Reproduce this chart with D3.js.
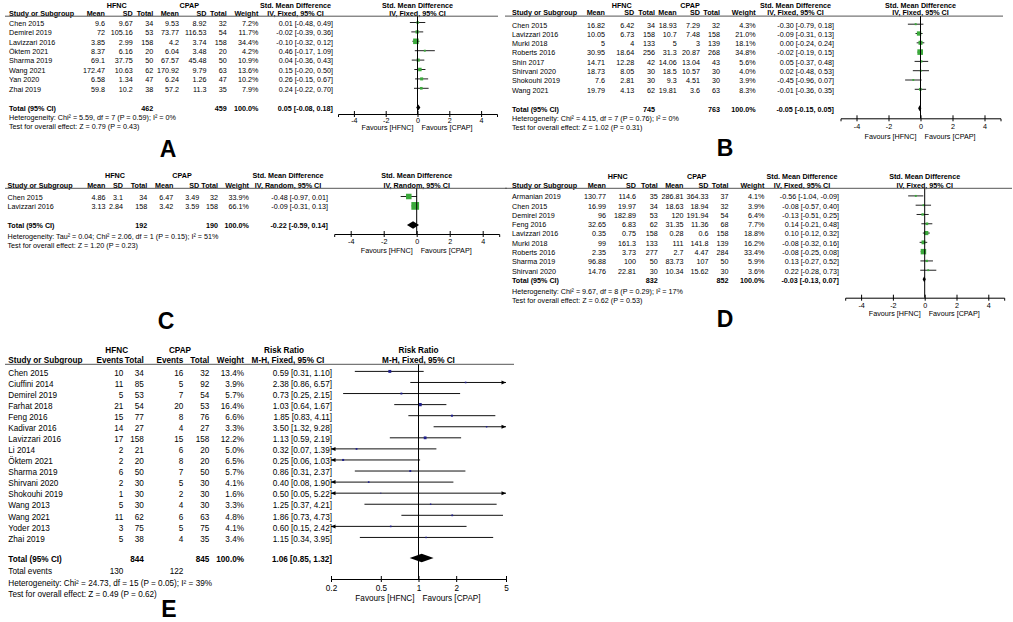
<!DOCTYPE html>
<html><head><meta charset="utf-8">
<script src="https://cdn.jsdelivr.net/npm/d3@7"></script>
<style>html,body{margin:0;padding:0;background:#fff;} svg{display:block;font-family:"Liberation Sans",Arial,sans-serif;}</style>
</head><body><svg id="c" width="1013" height="622"></svg>
<script>
// ---------- shared labels ----------
const smdTicks = [-4, -2, 0, 2, 4];
const rrTicks = [0.2, 0.5, 1, 2, 5];
const smdCols = ["Mean", "SD", "Total", "Mean", "SD", "Total", "Weight"];
const rrCols = ["Events", "Total", "Events", "Total", "Weight"];
const groupNames = ["HFNC", "CPAP"];

// ---------- Panel A ----------
const studiesA = ["Chen 2015", "Demirel 2019", "Lavizzari 2016", "Öktem 2021", "Sharma 2019", "Wang 2021", "Yan 2020", "Zhai 2019"];
const tableA = [[9.6, 9.67, 34, 9.53, 8.92, 32], [72, 105.16, 53, 73.77, 116.53, 54], [3.85, 2.99, 158, 4.2, 3.74, 158], [8.37, 6.16, 20, 6.04, 3.48, 20], [69.1, 37.75, 50, 67.57, 45.48, 50], [172.47, 10.63, 62, 170.92, 9.79, 63], [6.58, 1.34, 47, 6.24, 1.26, 47], [59.8, 10.2, 38, 57.2, 11.3, 35]];
const weightA = [7.2, 11.7, 34.4, 4.2, 10.9, 13.6, 10.2, 7.9];
const estA = [0.01, -0.02, -0.10, 0.46, 0.04, 0.15, 0.26, 0.24];
const lowA = [-0.48, -0.39, -0.32, -0.17, -0.36, -0.20, -0.15, -0.22];
const highA = [0.49, 0.36, 0.12, 1.09, 0.43, 0.50, 0.67, 0.70];
const totalA = [462, 459, 0.05, -0.08, 0.18];
const hetA = "Heterogeneity: Chi² = 5.59, df = 7 (P = 0.59); I² = 0%";
const testA = "Test for overall effect: Z = 0.79 (P = 0.43)";

// ---------- Panel B ----------
const studiesB = ["Chen 2015", "Lavizzari 2016", "Murki 2018", "Roberts 2016", "Shin 2017", "Shirvani 2020", "Shokouhi 2019", "Wang 2021"];
const tableB = [[16.82, 6.42, 34, 18.93, 7.29, 32], [10.05, 6.73, 158, 10.7, 7.48, 158], [5, 4, 133, 5, 3, 139], [30.95, 18.64, 256, 31.3, 20.87, 268], [14.71, 12.28, 42, 14.06, 13.04, 43], [18.73, 8.05, 30, 18.5, 10.57, 30], [7.6, 2.81, 30, 9.3, 4.51, 30], [19.79, 4.13, 62, 19.81, 3.6, 63]];
const weightB = [4.3, 21.0, 18.1, 34.8, 5.6, 4.0, 3.9, 8.3];
const estB = [-0.30, -0.09, 0.00, -0.02, 0.05, 0.02, -0.45, -0.01];
const lowB = [-0.79, -0.31, -0.24, -0.19, -0.37, -0.48, -0.96, -0.36];
const highB = [0.18, 0.13, 0.24, 0.15, 0.48, 0.53, 0.07, 0.35];
const totalB = [745, 763, -0.05, -0.15, 0.05];
const hetB = "Heterogeneity: Chi² = 4.15, df = 7 (P = 0.76); I² = 0%";
const testB = "Test for overall effect: Z = 1.02 (P = 0.31)";

// ---------- Panel C ----------
const studiesC = ["Chen 2015", "Lavizzari 2016"];
const tableC = [[4.86, 3.1, 34, 6.47, 3.49, 32], [3.13, 2.84, 158, 3.42, 3.59, 158]];
const weightC = [33.9, 66.1];
const estC = [-0.48, -0.09];
const lowC = [-0.97, -0.31];
const highC = [0.01, 0.13];
const totalC = [192, 190, -0.22, -0.59, 0.14];
const hetC = "Heterogeneity: Tau² = 0.04; Chi² = 2.06, df = 1 (P = 0.15); I² = 51%";
const testC = "Test for overall effect: Z = 1.20 (P = 0.23)";

// ---------- Panel D ----------
const studiesD = ["Armanian 2019", "Chen 2015", "Demirel 2019", "Feng 2016", "Lavizzari 2016", "Murki 2018", "Roberts 2016", "Sharma 2019", "Shirvani 2020"];
const tableD = [[130.77, 114.6, 35, 286.81, 364.33, 37], [16.99, 19.97, 34, 18.63, 18.94, 32], [96, 182.89, 53, 120, 191.94, 54], [32.65, 6.83, 62, 31.35, 11.36, 68], [0.35, 0.75, 158, 0.28, 0.6, 158], [99, 161.3, 133, 111, 141.8, 139], [2.35, 3.73, 277, 2.7, 4.47, 284], [96.88, 100, 50, 83.73, 107, 50], [14.76, 22.81, 30, 10.34, 15.62, 30]];
const weightD = [4.1, 3.9, 6.4, 7.7, 18.8, 16.2, 33.4, 5.9, 3.6];
const estD = [-0.56, -0.08, -0.13, 0.14, 0.10, -0.08, -0.08, 0.13, 0.22];
const lowD = [-1.04, -0.57, -0.51, -0.21, -0.12, -0.32, -0.25, -0.27, -0.28];
const highD = [-0.09, 0.40, 0.25, 0.48, 0.32, 0.16, 0.08, 0.52, 0.73];
const totalD = [832, 852, -0.03, -0.13, 0.07];
const hetD = "Heterogeneity: Chi² = 9.67, df = 8 (P = 0.29); I² = 17%";
const testD = "Test for overall effect: Z = 0.62 (P = 0.53)";

// ---------- Panel E ----------
const studiesE = ["Chen 2015", "Ciuffini 2014", "Demirel 2019", "Farhat 2018", "Feng 2016", "Kadivar 2016", "Lavizzari 2016", "Li 2014", "Öktem 2021", "Sharma 2019", "Shirvani 2020", "Shokouhi 2019", "Wang 2013", "Wang 2021", "Yoder 2013", "Zhai 2019"];
const tableE = [[10, 34, 16, 32], [11, 85, 5, 92], [5, 53, 7, 54], [21, 54, 20, 53], [15, 77, 8, 76], [14, 27, 4, 27], [17, 158, 15, 158], [2, 21, 6, 20], [2, 20, 8, 20], [6, 50, 7, 50], [2, 30, 5, 30], [1, 30, 2, 30], [5, 30, 4, 30], [11, 62, 6, 63], [3, 75, 5, 75], [5, 38, 4, 35]];
const weightE = [13.4, 3.9, 5.7, 16.4, 6.6, 3.3, 12.2, 5.0, 6.5, 5.7, 4.1, 1.6, 3.3, 4.8, 4.1, 3.4];
const estE = [0.59, 2.38, 0.73, 1.03, 1.85, 3.50, 1.13, 0.32, 0.25, 0.86, 0.40, 0.50, 1.25, 1.86, 0.60, 1.15];
const lowE = [0.31, 0.86, 0.25, 0.64, 0.83, 1.32, 0.59, 0.07, 0.06, 0.31, 0.08, 0.05, 0.37, 0.73, 0.15, 0.34];
const highE = [1.10, 6.57, 2.15, 1.67, 4.11, 9.28, 2.19, 1.39, 1.03, 2.37, 1.90, 5.22, 4.21, 4.73, 2.42, 3.95];
const totalE = [844, 845, 1.06, 0.85, 1.32];
const eventsE = [130, 122];
const hetE = "Heterogeneity: Chi² = 24.73, df = 15 (P = 0.05); I² = 39%";
const testE = "Test for overall effect: Z = 0.49 (P = 0.62)";

// ---------- drawing ----------
const svg = d3.select("#c");
const GREEN = "#3caa3c", NAVY = "#20208c", LINE = "#222";

function T(g, x, y, s, anchor, bold, fs) {
  const t = g.append("text").attr("x", x).attr("y", y).text(s)
    .attr("text-anchor", anchor || "start").attr("fill", "#000");
  if (bold) t.attr("font-weight", "bold");
  if (fs) t.attr("font-size", fs);
  return t;
}
const ci = (e, l, h) => `${e.toFixed(2)} [${l.toFixed(2)}, ${h.toFixed(2)}]`;

function drawAxis(g, x, L, ticks) {
  const ax = g.append("g").attr("transform", `translate(0,${L.axisY})`)
    .call(d3.axisBottom(x).tickValues(ticks).tickSizeOuter(0).tickSize(3).tickFormat(d => String(d)));
  ax.attr("font-family", null).attr("font-size", L.fs);
  ax.select(".domain").attr("stroke", "#000").attr("stroke-width", 1);
  ax.selectAll(".tick line").attr("y1", -3).attr("y2", 3).attr("stroke", "#000");
  ax.selectAll(".tick text").attr("y", L.tickY - L.axisY).attr("dy", 0).attr("fill", "#000");
  const z = x(L.ref);
  g.append("line").attr("x1", z).attr("x2", z).attr("y1", L.ruleY).attr("y2", L.axisY)
    .attr("stroke", "#000").attr("stroke-width", 1);
  T(g, z - 4, L.favY, "Favours [HFNC]", "end");
  T(g, z + 4, L.favY, "Favours [CPAP]", "start");
}

function drawSMD(L, studies, table, weight, est, low, high, total, het, test) {
  const g = svg.append("g").attr("font-size", L.fs);
  const off = L.fs * 0.36;
  T(g, L.hfncC, L.hy1, groupNames[0], "middle", true);
  T(g, L.cpapC, L.hy1, groupNames[1], "middle", true);
  T(g, L.studyX, L.hy2, "Study or Subgroup", "start", true);
  smdCols.forEach((c, i) => T(g, L.cols[i], L.hy2, c, "end", true));
  T(g, L.ciC, L.hy1, "Std. Mean Difference", "middle", true);
  T(g, L.ciC, L.hy2, L.method, "middle", true);
  const x = d3.scaleLinear().domain([-5, 5]).range(L.px);
  T(g, x(0), L.hy1, "Std. Mean Difference", "middle", true);
  T(g, x(0), L.hy2, L.method, "middle", true);
  g.append("line").attr("x1", L.ruleX[0]).attr("x2", L.ruleX[1]).attr("y1", L.ruleY).attr("y2", L.ruleY)
    .attr("stroke", "#555").attr("stroke-width", 1);
  studies.forEach((s, i) => {
    const cy = L.row0 + i * L.rowH;
    T(g, L.studyX, cy + off, s);
    table[i].forEach((v, j) => T(g, L.cols[j], cy + off, String(v), "end"));
    T(g, L.cols[6], cy + off, weight[i].toFixed(1) + "%", "end");
    T(g, L.ciR, cy + off, ci(est[i], low[i], high[i]), "end");
    const my = cy - 0.8;
    g.append("line").attr("x1", x(low[i])).attr("x2", x(high[i])).attr("y1", my).attr("y2", my)
      .attr("stroke", LINE).attr("stroke-width", 1);
    const sz = 0.95 * Math.sqrt(weight[i]);
    g.append("rect").attr("x", x(est[i]) - sz / 2).attr("y", my - sz / 2).attr("width", sz).attr("height", sz)
      .attr("fill", GREEN);
  });
  const ty = L.totalY;
  T(g, L.studyX, ty + off, "Total (95% CI)", "start", true);
  T(g, L.cols[2], ty + off, String(total[0]), "end", true);
  T(g, L.cols[5], ty + off, String(total[1]), "end", true);
  T(g, L.cols[6], ty + off, "100.0%", "end", true);
  T(g, L.ciR, ty + off, ci(total[2], total[3], total[4]), "end", true);
  T(g, L.studyX, L.hetY + off, het);
  T(g, L.studyX, L.testY + off, test);
  const dy = ty - 0.8, h = L.dh / 2;
  g.append("path").attr("d", `M${x(total[3])},${dy}L${x(total[2])},${dy - h}L${x(total[4])},${dy}L${x(total[2])},${dy + h}Z`)
    .attr("fill", "#000");
  drawAxis(g, x, L, smdTicks);
  T(g, L.lx, L.ly, L.letter, "middle", true, 23);
}

const LA = {fs: 7.2, hy1: 7.9, hy2: 15.5, ruleY: 16.2, ruleX: [5, 498], studyX: 9, hfncC: 116.7, cpapC: 189.3,
  cols: [105, 132.7, 153.3, 179, 206.5, 226.7, 258.3], ciC: 295.5, ciR: 333, method: "IV, Fixed, 95% CI",
  row0: 23.3, rowH: 9.4, totalY: 108.3, hetY: 117.7, testY: 126.7, px: [338, 497], axisY: 114, tickY: 123, favY: 130.3,
  dh: 6, ref: 0, letter: "A", lx: 168, ly: 157};
const LB = {fs: 7.2, hy1: 7.9, hy2: 15.4, ruleY: 16.1, ruleX: [505, 1003], studyX: 512, hfncC: 621.7, cpapC: 690,
  cols: [605, 634.3, 655, 676.7, 700, 720, 755.7], ciC: 795.5, ciR: 834, method: "IV, Fixed, 95% CI",
  row0: 25, rowH: 9.3, totalY: 109, hetY: 118, testY: 127, px: [840.5, 1000.5], axisY: 118.3, tickY: 129.2, favY: 138.6,
  dh: 6, ref: 0, letter: "B", lx: 725, ly: 156};
const LC = {fs: 7.2, hy1: 178.3, hy2: 187.6, ruleY: 188.3, ruleX: [5, 507], studyX: 7.5, hfncC: 115, cpapC: 182,
  cols: [105.5, 123, 147.3, 173.3, 199.3, 218, 249], ciC: 288, ciR: 328, method: "IV, Random, 95% CI",
  row0: 197.3, rowH: 9.4, totalY: 225.7, hetY: 236, testY: 245, px: [334.2, 499.2], axisY: 234, tickY: 243.6, favY: 253,
  dh: 7.5, ref: 0, letter: "C", lx: 166, ly: 329};
const LD = {fs: 7.2, hy1: 179.3, hy2: 187.6, ruleY: 188.3, ruleX: [505, 1012], studyX: 512, hfncC: 617.7, cpapC: 696.7,
  cols: [606, 636, 657.7, 683.5, 708.5, 728.5, 764.3], ciC: 802, ciR: 839, method: "IV, Fixed, 95% CI",
  row0: 196.7, rowH: 9.29, totalY: 280, hetY: 291, testY: 300.3, px: [845.2, 1004.2], axisY: 297.7, tickY: 307.6, favY: 315.5,
  dh: 6, ref: 0, letter: "D", lx: 725, ly: 327};

drawSMD(LA, studiesA, tableA, weightA, estA, lowA, highA, totalA, hetA, testA);
drawSMD(LB, studiesB, tableB, weightB, estB, lowB, highB, totalB, hetB, testB);
drawSMD(LC, studiesC, tableC, weightC, estC, lowC, highC, totalC, hetC, testC);
drawSMD(LD, studiesD, tableD, weightD, estD, lowD, highD, totalD, hetD, testD);

// ---------- Panel E (risk ratio) ----------
(function () {
  const L = {fs: 8.2, hy1: 353, hy2: 363.4, ruleY: 364.3, ruleX: [5, 514], studyX: 8.3, hfncC: 116.7, cpapC: 180,
    cols: [123.3, 143.8, 183.3, 209.3, 244], ciC: 288, ciR: 332,
    row0: 372.7, rowH: 11.07, totalY: 559.3, eventsY: 570.7, hetY: 582.7, testY: 594,
    px: [331, 506], axisY: 579, tickY: 591.4, favY: 600.8, ref: 1};
  const g = svg.append("g").attr("font-size", L.fs);
  const off = L.fs * 0.36;
  T(g, L.hfncC, L.hy1, groupNames[0], "middle", true);
  T(g, L.cpapC, L.hy1, groupNames[1], "middle", true);
  T(g, L.studyX, L.hy2, "Study or Subgroup", "start", true);
  rrCols.forEach((c, i) => T(g, L.cols[i], L.hy2, c, "end", true));
  T(g, 284, L.hy1, "Risk Ratio", "middle", true);
  T(g, L.ciC, L.hy2, "M-H, Fixed, 95% CI", "middle", true);
  const x = d3.scaleLog().domain([0.2, 5]).range(L.px);
  T(g, x(1), L.hy1, "Risk Ratio", "middle", true);
  T(g, x(1), L.hy2, "M-H, Fixed, 95% CI", "middle", true);
  g.append("line").attr("x1", L.ruleX[0]).attr("x2", L.ruleX[1]).attr("y1", L.ruleY).attr("y2", L.ruleY)
    .attr("stroke", "#555").attr("stroke-width", 1);
  const [dmin, dmax] = x.domain();
  studiesE.forEach((s, i) => {
    const cy = L.row0 + i * L.rowH;
    T(g, L.studyX, cy + off, s);
    tableE[i].forEach((v, j) => T(g, L.cols[j], cy + off, String(v), "end"));
    T(g, L.cols[4], cy + off, weightE[i].toFixed(1) + "%", "end");
    T(g, L.ciR, cy + off, ci(estE[i], lowE[i], highE[i]), "end");
    const my = cy - 1.3;
    const lo = Math.max(lowE[i], dmin), hi = Math.min(highE[i], dmax);
    g.append("line").attr("x1", x(lo)).attr("x2", x(hi)).attr("y1", my).attr("y2", my)
      .attr("stroke", "#111").attr("stroke-width", 1);
    if (lowE[i] < dmin) {
      const xe = x(dmin);
      g.append("path").attr("d", `M${xe},${my}L${xe + 4.5},${my - 2}L${xe + 4.5},${my + 2}Z`).attr("fill", "#000");
    }
    if (highE[i] > dmax) {
      const xe = x(dmax);
      g.append("path").attr("d", `M${xe},${my}L${xe - 4.5},${my - 2}L${xe - 4.5},${my + 2}Z`).attr("fill", "#000");
    }
    const sz = 0.8 * Math.sqrt(weightE[i]);
    g.append("rect").attr("x", x(estE[i]) - sz / 2).attr("y", my - sz / 2).attr("width", sz).attr("height", sz)
      .attr("fill", NAVY);
  });
  T(g, L.studyX, L.totalY + off, "Total (95% CI)", "start", true);
  T(g, L.cols[1], L.totalY + off, String(totalE[0]), "end", true);
  T(g, L.cols[3], L.totalY + off, String(totalE[1]), "end", true);
  T(g, L.cols[4], L.totalY + off, "100.0%", "end", true);
  T(g, L.ciR, L.totalY + off, ci(totalE[2], totalE[3], totalE[4]), "end", true);
  T(g, L.studyX, L.eventsY + off, "Total events");
  T(g, L.cols[0], L.eventsY + off, String(eventsE[0]), "end");
  T(g, L.cols[2], L.eventsY + off, String(eventsE[1]), "end");
  T(g, L.studyX, L.hetY + off, hetE);
  T(g, L.studyX, L.testY + off, testE);
  const dy = L.totalY - 1.3, h = 4.2;
  g.append("path").attr("d", `M${x(totalE[3])},${dy}L${x(totalE[2])},${dy - h}L${x(totalE[4])},${dy}L${x(totalE[2])},${dy + h}Z`)
    .attr("fill", "#000");
  drawAxis(g, x, L, rrTicks);
  T(g, 169, 617, "E", "middle", true, 23);
})();
</script></body></html>
